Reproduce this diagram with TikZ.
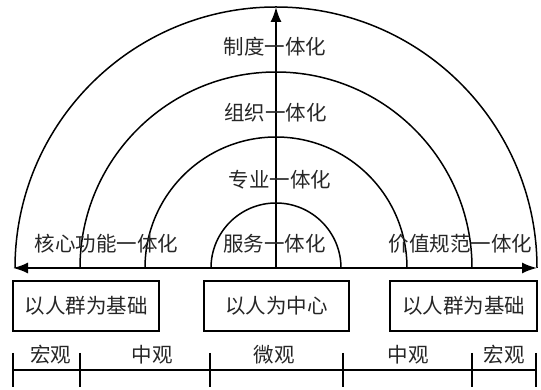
\documentclass[tikz,border=0pt]{standalone}
\usepackage{fontspec}
\newfontfamily\cjk{Noto Sans CJK SC}
\usetikzlibrary{arrows.meta}
\begin{document}
\begin{tikzpicture}[x=1pt,y=1pt,
  lbl/.style={font=\cjk\fontsize{20.5pt}{22pt}\selectfont, text=black!85, inner sep=0pt},
  arcline/.style={line width=1.5pt},
  axisline/.style={line width=1.8pt, -{Latex[length=15pt,width=11pt]}},
  boxnode/.style={draw, line width=1.8pt, minimum height=50pt, inner sep=0pt, font=\cjk\fontsize{20.5pt}{22pt}\selectfont, text=black!85},
  tick/.style={line width=1.8pt}]
\useasboundingbox (0,-122) rectangle (541,268);
% center
\coordinate (O) at (276,0);
% arcs
\draw[arcline] (276-65,0) arc[start angle=180,end angle=0,radius=65];
\draw[arcline] (276-131,0) arc[start angle=180,end angle=0,radius=131];
\draw[arcline] (276-196,0) arc[start angle=180,end angle=0,radius=196];
\draw[arcline] (276-261,0) arc[start angle=180,end angle=0,radius=261];
% axes
\coordinate (AL) at (13,0);
\coordinate (AR) at (537,0);
\coordinate (AT) at (276,261);
\draw[axisline] (O) -- (AL);
\draw[axisline] (O) -- (AR);
\draw[axisline] (O) -- (AT);
% labels
\node[lbl] (l1) at (275,221) {制度一体化};
\node[lbl] (l2) at (275.5,155) {组织一体化};
\node[lbl] (l3) at (280,88) {专业一体化};
\node[lbl] (l4) at (274.5,24) {服务一体化};
\node[lbl] (l5) at (106.5,24) {核心功能一体化};
\node[lbl] (l6) at (460.5,24) {价值规范一体化};
% boxes
\node[boxnode, minimum width=146pt] (b1) at (86,-38) {以人群为基础};
\node[boxnode, minimum width=145pt] (b2) at (276.5,-38) {以人为中心};
\node[boxnode, minimum width=147pt] (b3) at (463.5,-38) {以人群为基础};
% scale
\coordinate (s0) at (13,-102);
\coordinate (s5) at (536,-102);
\draw[tick] (s0) -- (s5);
\foreach \x/\n in {13/t0,80/t1,210/t2,343/t3,472/t4,536/t5}{
  \draw[tick] (\x,-85) -- (\x,-119);
}
\node[lbl] (m1) at (51,-86.5) {宏观};
\node[lbl] (m2) at (152,-86.5) {中观};
\node[lbl] (m3) at (274,-86.5) {微观};
\node[lbl] (m4) at (408,-86.5) {中观};
\node[lbl] (m5) at (504,-86.5) {宏观};
\end{tikzpicture}
\end{document}
